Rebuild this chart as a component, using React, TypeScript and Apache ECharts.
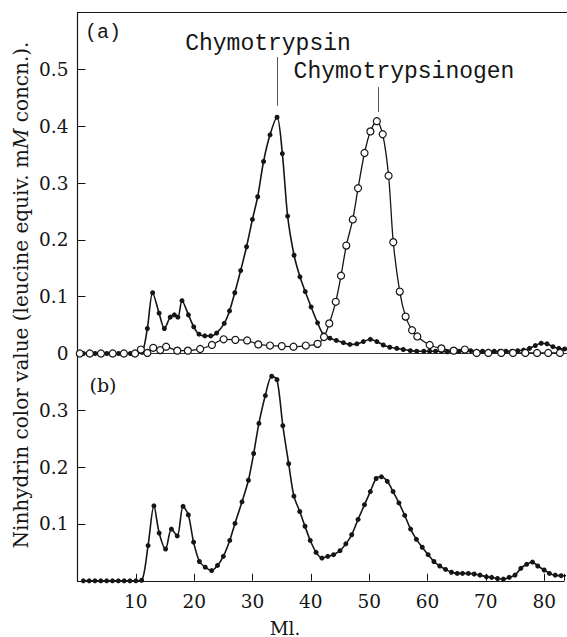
import React, { useEffect, useRef } from "react";
import * as echarts from "echarts";

// (a) filled dots: chymotrypsin run
const aFilledMl = [1, 2, 3, 4, 5, 6, 7, 8, 9, 10,
  11, 11.9, 12.8, 13.9, 14.8, 15.8, 16.5, 17.1, 17.8, 18.9,
  19.8, 20.7, 21.7, 22.7, 23.7, 25.0, 25.9, 26.8, 27.8, 28.8,
  29.8, 30.7, 31.7, 32.8, 34.0, 34.9, 35.8, 36.9, 37.9, 38.8,
  39.8, 40.9, 41.9, 43.0, 44.1, 45.3, 46.4, 47.6, 48.7, 49.9,
  51.0, 52.1, 53.2, 54.4, 55.5, 56.7, 57.8, 59, 60, 61,
  62, 63, 64, 65, 66, 67, 68, 69, 70, 71, 72, 73, 74, 75, 76, 77, 78, 79, 80, 81, 82, 83, 84];
const aFilledVal = [0, 0, 0, 0, 0, 0, 0, 0, 0, 0,
  0.002, 0.044, 0.107, 0.071, 0.044, 0.064, 0.068, 0.064, 0.093, 0.068,
  0.047, 0.034, 0.031, 0.031, 0.036, 0.053, 0.075, 0.107, 0.146, 0.188,
  0.236, 0.276, 0.338, 0.385, 0.416, 0.352, 0.242, 0.173, 0.135, 0.109,
  0.082, 0.054, 0.033, 0.027, 0.023, 0.019, 0.016, 0.017, 0.021, 0.025,
  0.021, 0.015, 0.011, 0.009, 0.007, 0.005, 0.004, 0.004, 0.004, 0.004,
  0.004, 0.003, 0.004, 0.004, 0.004, 0.005, 0.004, 0.004, 0.004, 0.004, 0.004, 0.004, 0.004, 0.005, 0.006, 0.009, 0.014, 0.018, 0.017, 0.012, 0.009, 0.008, 0.008];

// (a) open circles: chymotrypsinogen run
const aOpenMl = [0.4, 2.1, 4.0, 6.0, 7.9, 9.8, 10.8, 11.9, 12.9, 14.1,
  15.1, 17.0, 18.8, 20.9, 22.9, 24.9, 26.9, 28.9, 30.8, 32.8,
  34.8, 36.8, 38.9, 40.9, 42.0, 42.9, 44.0, 44.9, 45.8, 46.9,
  47.8, 48.9, 49.9, 51.0, 52.0, 53.0, 53.8, 54.9, 55.9, 57.0,
  57.9, 60.0, 62.0, 64.1, 66.0, 68.0, 70.0, 72.2, 74.2, 76.3,
  78.3, 80.2, 82.2];
const aOpenVal = [0, 0, 0, 0, 0, 0, 0.007, 0.001, 0.010, 0.006,
  0.012, 0.005, 0.005, 0.008, 0.015, 0.025, 0.024, 0.023, 0.016, 0.014,
  0.013, 0.012, 0.014, 0.017, 0.029, 0.053, 0.091, 0.137, 0.190, 0.236,
  0.291, 0.353, 0.391, 0.409, 0.386, 0.313, 0.196, 0.109, 0.065, 0.041,
  0.030, 0.015, 0.009, 0.005, 0.007, 0.001, 0.001, 0.001, 0.001, 0.001,
  0.001, 0.001, 0.001];

// (b)
const bMl = [1, 2, 3, 4, 5, 6, 7, 8, 9, 10,
  11.0, 12.1, 13.1, 14.0, 15.1, 16.1, 17.1, 18.1, 19.0, 19.9,
  20.9, 21.9, 23.0, 24.0, 25.0, 26.1, 27.0, 28.2, 29.3, 30.2,
  31.1, 32.2, 33.3, 34.2, 35.2, 36.2, 37.1, 38.1, 39.0, 39.9,
  40.9, 41.9, 42.9, 43.9, 45.0, 46.0, 47.0, 48.1, 49.2, 50.2,
  51.2, 52.1, 53.1, 54.1, 55.1, 56.1, 57.1, 58.1, 59.1, 60.1,
  61.1, 62.1, 63.1, 64.1, 65.1, 66.0, 67.0, 68.0, 69.0, 70.1,
  71.0, 72.0, 73.0, 74.0, 75.0, 76.0, 77.0, 78.0, 78.9, 80.0,
  80.9, 81.9, 82.9, 83.9];
const bVal = [0, 0, 0, 0, 0, 0, 0, 0, 0, 0,
  0.001, 0.062, 0.132, 0.084, 0.056, 0.091, 0.079, 0.131, 0.116, 0.068,
  0.034, 0.024, 0.018, 0.027, 0.043, 0.071, 0.101, 0.139, 0.177, 0.224,
  0.277, 0.326, 0.360, 0.354, 0.273, 0.206, 0.149, 0.122, 0.096, 0.071,
  0.050, 0.040, 0.043, 0.046, 0.053, 0.065, 0.081, 0.108, 0.134, 0.157,
  0.180, 0.183, 0.175, 0.157, 0.137, 0.115, 0.091, 0.073, 0.059, 0.046,
  0.034, 0.026, 0.020, 0.015, 0.013, 0.013, 0.013, 0.012, 0.010, 0.007,
  0.006, 0.004, 0.003, 0.006, 0.010, 0.022, 0.029, 0.033, 0.026, 0.019,
  0.013, 0.010, 0.009, 0.009];

const xTickLabels = [10, 20, 30, 40, 50, 60, 70, 80];
const peakChymotrypsin = [34.0, 0.416];
const peakChymotrypsinogen = [51.0, 0.409];

const zip = (xs: number[], ys: number[]) => xs.map((x, i) => [x, ys[i]]);

const SERIF = "'DejaVu Serif', serif";
const LETTER = "'Liberation Mono', monospace";
const INK = "#151515";

export default function App() {
  const ref = useRef<HTMLDivElement>(null);
  useEffect(() => {
    if (!ref.current) return;
    const chart = echarts.init(ref.current, null, { renderer: "svg" });
    const axisLine = { show: true, lineStyle: { color: INK, width: 1.2 } };
    const labelStyle = { color: INK, fontFamily: SERIF, fontSize: 18.5 };
    const option: any = {
      animation: false,
      backgroundColor: "#fff",
      grid: [
        { left: 77.5, top: 12.7, right: 0, height: 340.8 },
        { left: 77.5, top: 353.5, right: 0, height: 227.3 },
      ],
      xAxis: [
        {
          type: "value", gridIndex: 0, min: 0, max: 83.4, interval: 10,
          axisLine: { show: true, lineStyle: { color: "#333", width: 1 } },
          axisTick: { show: false }, axisLabel: { show: false }, splitLine: { show: false },
        },
        {
          type: "value", gridIndex: 0, position: "top", min: 0, max: 83.4,
          axisLine, axisTick: { show: false }, axisLabel: { show: false }, splitLine: { show: false },
        },
        {
          type: "value", gridIndex: 1, min: 0, max: 83.4, interval: 10,
          axisLine,
          axisTick: { show: true, inside: true, length: 7, lineStyle: { color: INK, width: 1 } },
          axisLabel: {
            ...labelStyle, margin: 11,
            formatter: (v: number) => (xTickLabels.includes(Math.round(v)) ? String(Math.round(v)) : ""),
          },
          splitLine: { show: false },
        },
      ],
      yAxis: [
        {
          type: "value", gridIndex: 0, min: 0, max: 0.6, interval: 0.1,
          axisLine,
          axisTick: { show: true, inside: true, length: 8, lineStyle: { color: INK, width: 1 } },
          axisLabel: {
            ...labelStyle, margin: 9,
            formatter: (v: number) => (v < 0.001 ? "0" : v > 0.55 ? "" : v.toFixed(1)),
          },
          splitLine: { show: false },
        },
        {
          type: "value", gridIndex: 1, min: 0, max: 0.4, interval: 0.1,
          axisLine,
          axisTick: { show: true, inside: true, length: 8, lineStyle: { color: INK, width: 1 } },
          axisLabel: {
            ...labelStyle, margin: 9,
            formatter: (v: number) => (v < 0.05 || v > 0.35 ? "" : v.toFixed(1)),
          },
          splitLine: { show: false },
        },
      ],
      series: [
        {
          type: "line", xAxisIndex: 0, yAxisIndex: 0, smooth: 0.3,
          data: zip(aFilledMl, aFilledVal),
          symbol: "circle", symbolSize: 5,
          lineStyle: { color: INK, width: 1.6 },
          itemStyle: { color: INK },
          markLine: {
            silent: true, symbol: "none", label: { show: false },
            lineStyle: { color: "#444", width: 0.9, type: "solid" },
            data: [[
              { coord: [peakChymotrypsin[0] + 0.1, peakChymotrypsin[1] + 0.02] },
              { coord: [peakChymotrypsin[0] + 0.1, 0.522] },
            ]],
          },
          z: 2,
        },
        {
          type: "line", xAxisIndex: 0, yAxisIndex: 0, smooth: 0.3,
          data: zip(aOpenMl, aOpenVal),
          symbol: "circle", symbolSize: 7,
          lineStyle: { color: INK, width: 1.3 },
          itemStyle: { color: "#fff", borderColor: INK, borderWidth: 1.2 },
          markLine: {
            silent: true, symbol: "none", label: { show: false },
            lineStyle: { color: "#444", width: 0.9, type: "solid" },
            data: [[
              { coord: [peakChymotrypsinogen[0] + 0.2, peakChymotrypsinogen[1] + 0.016] },
              { coord: [peakChymotrypsinogen[0] + 0.2, 0.469] },
            ]],
          },
          z: 3,
        },
        {
          type: "line", xAxisIndex: 2, yAxisIndex: 1, smooth: 0.3,
          data: zip(bMl, bVal),
          symbol: "circle", symbolSize: 5,
          lineStyle: { color: INK, width: 1.6 },
          itemStyle: { color: INK },
        },
      ],
      graphic: [
        {
          type: "text", x: 21, y: 295, rotation: Math.PI / 2,
          style: {
            text: "Ninhydrin color value (leucine equiv. m{i|M} concn.).",
            rich: { i: { fontStyle: "italic", fontFamily: SERIF, fontSize: 20, fill: INK } },
            font: `20px ${SERIF}`, fill: INK, align: "center", verticalAlign: "middle",
          },
        },
        {
          type: "text", x: 285, y: 628,
          style: { text: "Ml.", font: `18.5px ${SERIF}`, fill: INK, align: "center", verticalAlign: "middle" },
        },
        {
          type: "text", x: 103, y: 32,
          style: { text: "(a)", font: `20px ${LETTER}`, fill: INK, align: "center", verticalAlign: "middle" },
        },
        {
          type: "text", x: 103, y: 385,
          style: { text: "(b)", font: `19px ${SERIF}`, fill: INK, align: "center", verticalAlign: "middle" },
        },
        {
          type: "text", x: 268, y: 44,
          style: { text: "Chymotrypsin", font: `23px ${LETTER}`, fill: INK, align: "center", verticalAlign: "middle" },
        },
        {
          type: "text", x: 404, y: 72,
          style: { text: "Chymotrypsinogen", font: `23px ${LETTER}`, fill: INK, align: "center", verticalAlign: "middle" },
        },
      ],
    };
    chart.setOption(option);
    return () => chart.dispose();
  }, []);
  return (
    <div
      ref={ref}
      style={{ position: "fixed", left: 0, top: 0, width: 567, height: 637, background: "#fff" }}
    />
  );
}
